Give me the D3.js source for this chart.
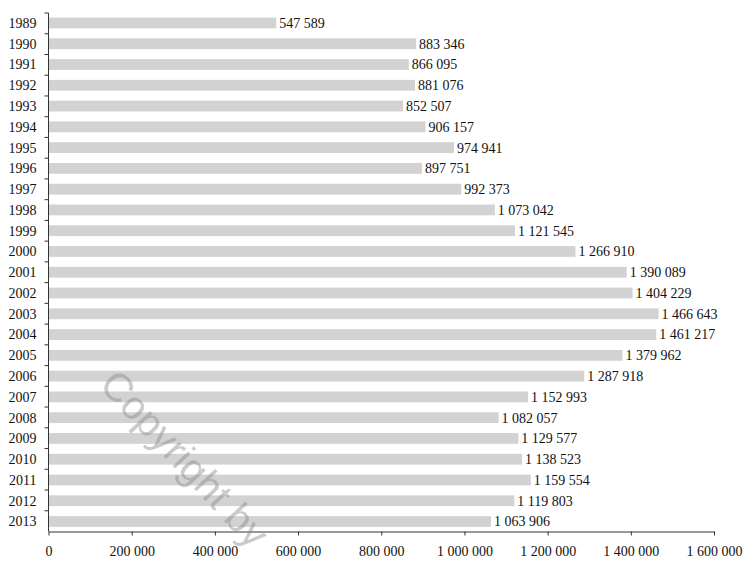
<!DOCTYPE html>
<html><head><meta charset="utf-8">
<script src="https://cdn.jsdelivr.net/npm/d3@7"></script>
<style>
body{margin:0;background:#fff;}
text{font-family:"Liberation Serif","Times New Roman",serif;}
</style></head>
<body><svg id="c" width="743" height="561"></svg>
<script>
const years = ["1989","1990","1991","1992","1993","1994","1995","1996","1997","1998","1999","2000","2001","2002","2003","2004","2005","2006","2007","2008","2009","2010","2011","2012","2013"];
const values = [547589,883346,866095,881076,852507,906157,974941,897751,992373,1073042,1121545,1266910,1390089,1404229,1466643,1461217,1379962,1287918,1152993,1082057,1129577,1138523,1159554,1119803,1063906];
const xTicks = [0,200000,400000,600000,800000,1000000,1200000,1400000,1600000];

const svg = d3.select("#c");
const loc = d3.formatLocale({decimal:",", thousands:" ", grouping:[3], currency:["",""]});
const fmt = loc.format(",d");

const x = d3.scaleLinear().domain([0,1600000]).range([48.5,714]);
const y = d3.scaleBand().domain(years).range([13,531.5]).paddingInner(0.48).paddingOuter(0.22);

svg.append("g").selectAll("rect").data(values).join("rect")
  .attr("x",x(0)).attr("y",(d,i)=>y(years[i]))
  .attr("width",d=>x(d)-x(0)).attr("height",y.bandwidth())
  .attr("fill","#d2d2d2");

svg.append("g").selectAll("text").data(values).join("text")
  .attr("x",d=>x(d)+3).attr("y",(d,i)=>y(years[i])+y.bandwidth()/2)
  .attr("dy","0.35em").attr("font-size",14).attr("fill","#111")
  .text(d=>fmt(d));

// y axis
const yb = d3.scaleBand().domain(years).range([13,531.5]);
const gy = svg.append("g").attr("transform",`translate(${x(0)},0)`);
gy.append("line").attr("y1",13).attr("y2",531.5).attr("stroke","#333");
gy.selectAll("line.t").data(years).join("line").attr("class","t")
  .attr("x1",-4).attr("x2",0).attr("y1",d=>yb(d)).attr("y2",d=>yb(d)).attr("stroke","#333");
gy.selectAll("text").data(years).join("text")
  .attr("x",-12).attr("y",d=>y(d)+y.bandwidth()/2).attr("dy","0.35em")
  .attr("text-anchor","end").attr("font-size",14).attr("fill","#111").text(d=>d);

// x axis
const xAxis = d3.axisBottom(x).tickValues(xTicks).tickSize(4).tickSizeOuter(0).tickFormat(d=>fmt(d));
const gx = svg.append("g").attr("transform","translate(0,531.5)").call(xAxis);
gx.select(".domain").attr("stroke","#333");
gx.selectAll(".tick line").attr("stroke","#333");
gx.selectAll(".tick text").attr("font-size",14).attr("fill","#111")
  .attr("font-family","'Liberation Serif','Times New Roman',serif").attr("y",15);

// watermark
svg.append("text").attr("transform","translate(98,386) rotate(47)")
  .style("font-family","'Liberation Sans',Arial,sans-serif")
  .attr("font-size",40).attr("fill","#888").attr("fill-opacity",0.45)
  .text("Copyright by");
</script></body></html>
